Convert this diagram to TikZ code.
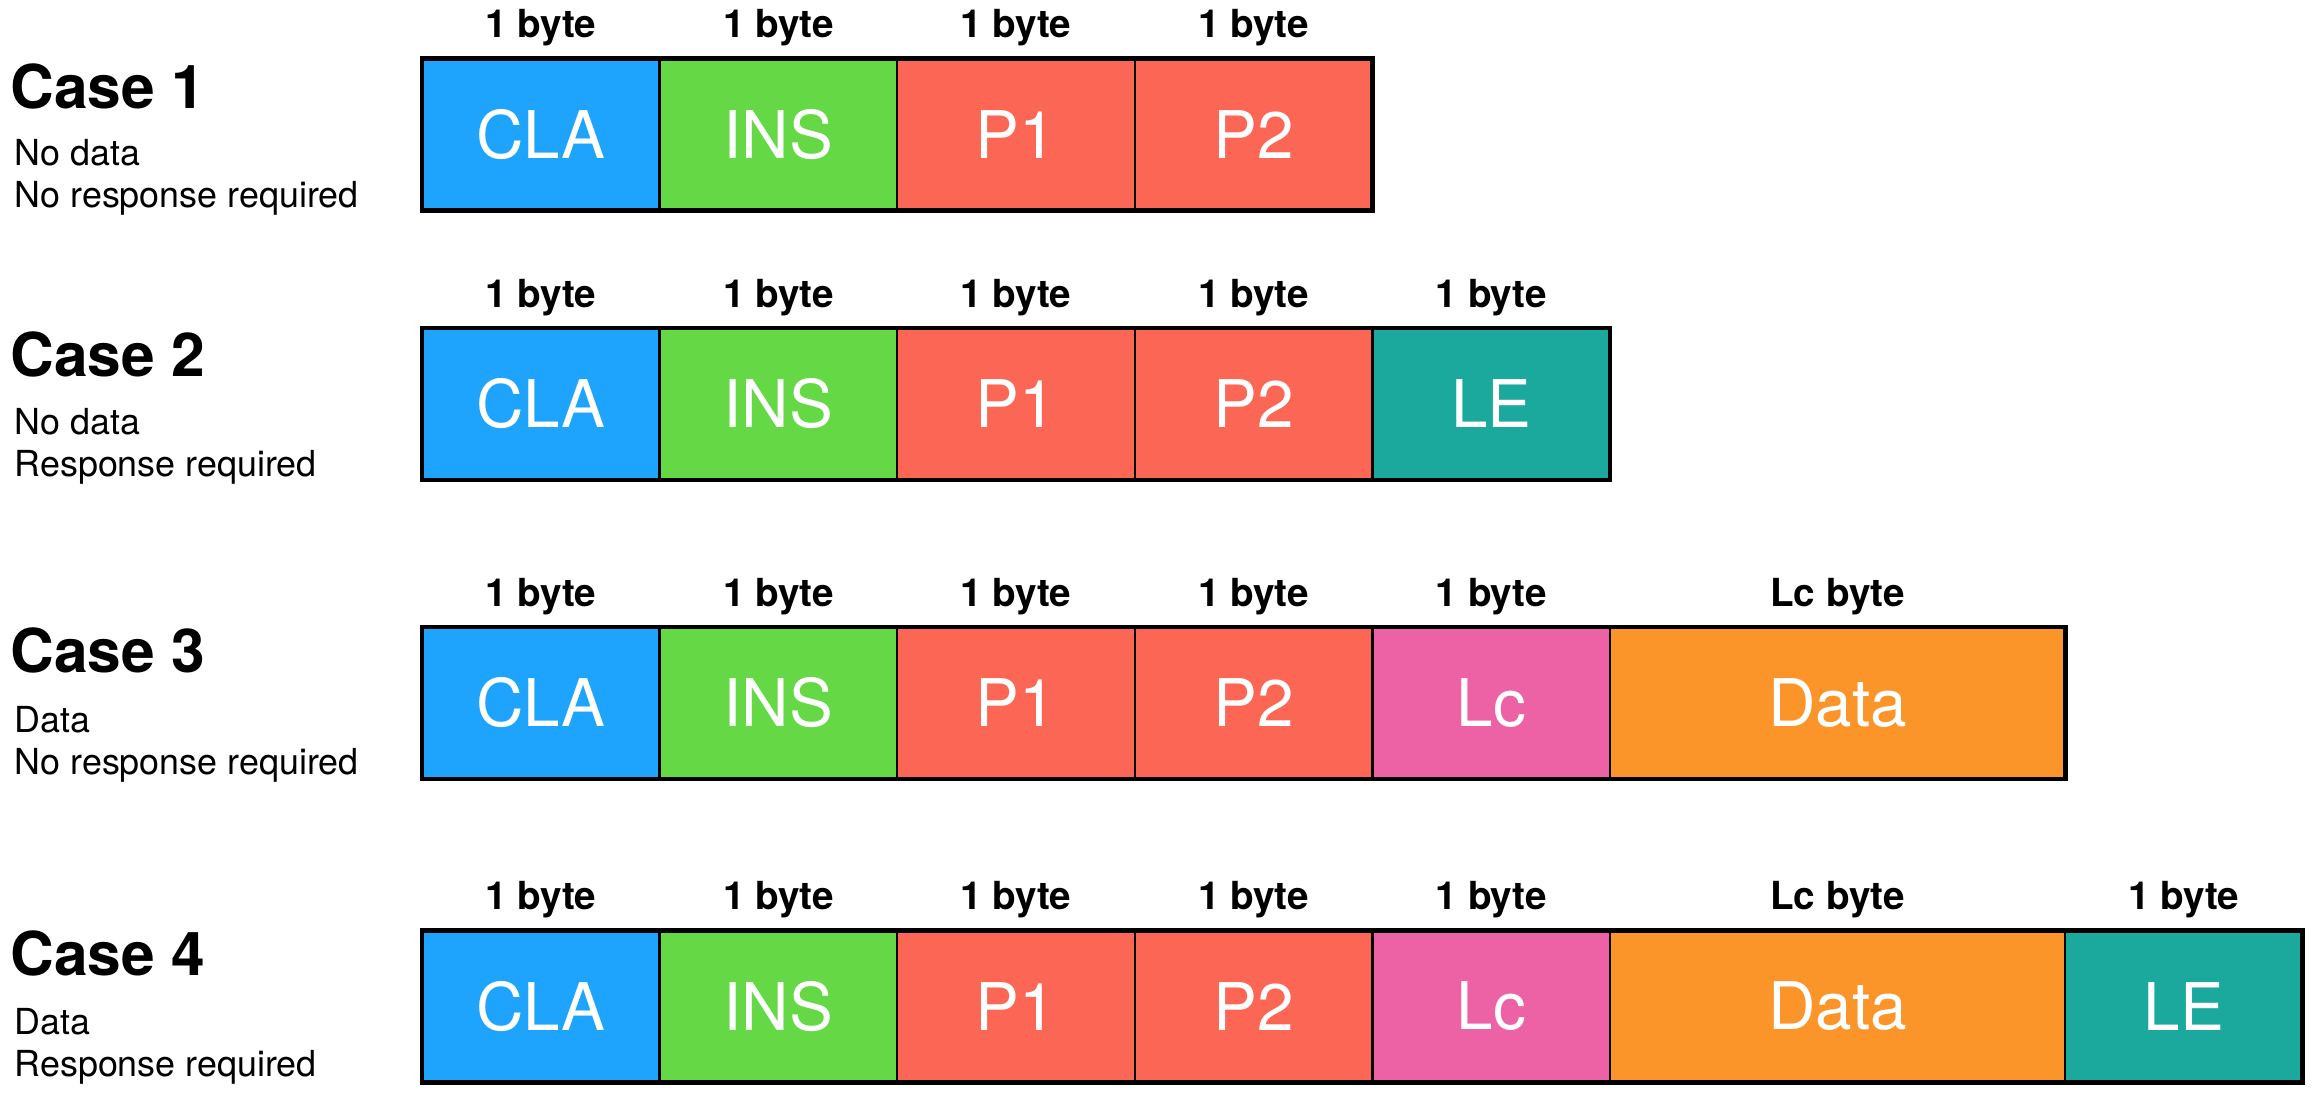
\documentclass[tikz,border=0pt]{standalone}
\usepackage{fontspec}
\setmainfont{TeX Gyre Heros}
\usetikzlibrary{positioning}
\definecolor{clablue}{RGB}{30,164,252}
\definecolor{insgreen}{RGB}{101,217,69}
\definecolor{pred}{RGB}{252,103,85}
\definecolor{leteal}{RGB}{26,169,156}
\definecolor{lcpink}{RGB}{236,98,164}
\definecolor{dataorange}{RGB}{252,149,41}
\tikzstyle{field}=[rectangle,draw=black,line width=0.7pt,minimum width=2.376cm,
minimum height=1.52cm,inner sep=0pt,outer sep=0pt,text=white,
font=\fontsize{18.7}{20}\selectfont]
\tikzstyle{clabox}=[field,fill=clablue]
\tikzstyle{insbox}=[field,fill=insgreen]
\tikzstyle{pbox}=[field,fill=pred]
\tikzstyle{lebox}=[field,fill=leteal]
\tikzstyle{lcbox}=[field,fill=lcpink]
\tikzstyle{databox}=[field,fill=dataorange,minimum width=4.55cm]
\tikzstyle{frame}=[line width=1.4pt]
\tikzstyle{casetitle}=[anchor=west,inner sep=0pt,font=\bfseries\fontsize{17.2}{19}\selectfont]
\tikzstyle{casetext}=[anchor=north west,align=left,inner sep=0pt,font=\fontsize{10.2}{11.8}\selectfont]

\begin{document}
\begin{tikzpicture}[every label/.style={text=black,font=\bfseries\fontsize{11}{13}\selectfont},
    label distance=0pt]
            \useasboundingbox (0,0) rectangle (23.16,-10.98);

            % Case 1 PART

            \node[casetitle] (case1) at (0.10,-0.86) {Case 1};
            \node[casetext] (desc1) at (0.14,-1.39) {No data\\No response required};

            \node[clabox, label=above:1 byte] (cla1) at (5.408,-1.345) {CLA};
            \node[insbox, right=0pt of cla1, label=above:1 byte] (ins1) {INS};
            \node[pbox, right=0pt of ins1,   label=above:1 byte] (pa1) {P1};
            \node[pbox, right=0pt of pa1,    label=above:1 byte] (pb1) {P2};

            \draw[frame] (cla1.north west) rectangle (pb1.south east);

            % Case 2 PART

            \node[casetitle] (case2) at (0.10,-3.54) {Case 2};
            \node[casetext] (desc2) at (0.14,-4.08) {No data\\Response required};

            \node[clabox, label=above:1 byte] (cla2) at (5.408,-4.04) {CLA};
            \node[insbox, right=0pt of cla2, label=above:1 byte] (ins2) {INS};
            \node[pbox, right=0pt of ins2,   label=above:1 byte] (pa2) {P1};
            \node[pbox, right=0pt of pa2,    label=above:1 byte] (pb2) {P2};
            \node[lebox, right=0pt of pb2,   label=above:1 byte] (le2) {LE};

            \draw[frame] (cla2.north west) rectangle (le2.south east);

            % Case 3 PART

            \node[casetitle] (case3) at (0.10,-6.50) {Case 3};
            \node[casetext] (desc3) at (0.14,-7.06) {Data\\No response required};

            \node[clabox, label=above:1 byte] (cla3) at (5.408,-7.03) {CLA};
            \node[insbox, right=0pt of cla3, label=above:1 byte] (ins3) {INS};
            \node[pbox, right=0pt of ins3,   label=above:1 byte] (pa3) {P1};
            \node[pbox, right=0pt of pa3,    label=above:1 byte] (pb3) {P2};
            \node[lcbox, right=0pt of pb3,   label=above:1 byte] (lc3) {Lc};
            \node[databox, right=0pt of lc3, label=above:Lc byte] (data3) {Data};

            \draw[frame] (cla3.north west) rectangle (data3.south east);

            % Case 4 PART

            \node[casetitle] (case4) at (0.10,-9.53) {Case 4};
            \node[casetext] (desc4) at (0.14,-10.08) {Data\\Response required};

            \node[clabox, label=above:1 byte] (cla4) at (5.408,-10.065) {CLA};
            \node[insbox, right=0pt of cla4, label=above:1 byte] (ins4) {INS};
            \node[pbox, right=0pt of ins4,   label=above:1 byte] (pa4) {P1};
            \node[pbox, right=0pt of pa4,    label=above:1 byte] (pb4) {P2};
            \node[lcbox, right=0pt of pb4,   label=above:1 byte] (lc4) {Lc};
            \node[databox, right=0pt of lc4, label=above:Lc byte] (data4) {Data};
            \node[lebox, right=0pt of data4, label=above:1 byte] (le4) {LE};

            \draw[frame] (cla4.north west) rectangle (le4.south east);

        \end{tikzpicture}
\end{document}
